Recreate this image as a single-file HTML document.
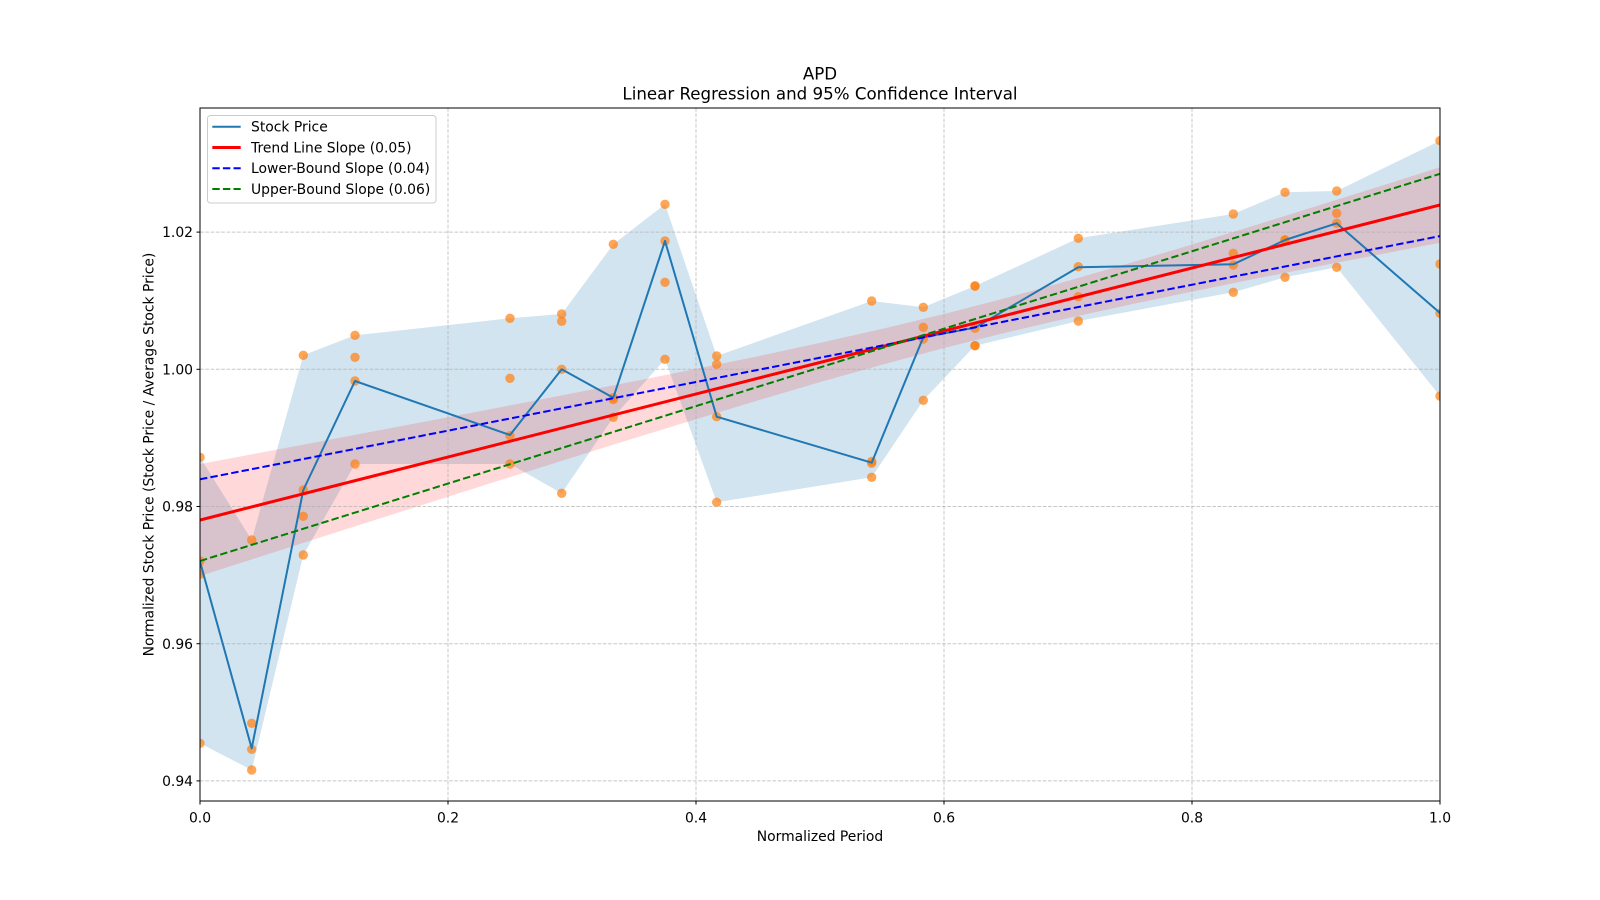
<!DOCTYPE html>
<html>
<head>
<meta charset="utf-8">
<style>
  html, body { margin:0; padding:0; background:#ffffff; }
  svg { display:block; }
  text { font-family: "DejaVu Sans", "Liberation Sans", sans-serif; fill:#000; }
</style>
</head>
<body>
<svg width="1600" height="900" viewBox="0 0 1600 900" xmlns="http://www.w3.org/2000/svg">
  <defs>
    <clipPath id="ax"><rect x="200" y="108" width="1240" height="693"/></clipPath>
  </defs>
  <rect x="0" y="0" width="1600" height="900" fill="#ffffff"/>

  <g clip-path="url(#ax)">
    <!-- blue min/max band -->
    <polygon fill="#1f77b4" fill-opacity="0.2" points="200,457.3 251.7,540 303.3,355.3 355,335.3 510,318.3 561.7,314 613.3,244.3 665,204.3 716.7,356 871.7,301 923.3,307.3 975,286 1078.3,238.3 1233.3,214 1285,192.3 1336.7,191 1440,140.7 1440,396 1336.7,267.3 1285,277.3 1233.3,292.3 1078.3,321 975,345.7 923.3,400.3 871.7,477.3 716.7,502.3 665,359.3 613.3,417.3 561.7,493.3 510,464 355,464 303.3,555 251.7,770 200,743.3"/>

    <!-- red CI band -->
    <polygon fill="#ff0000" fill-opacity="0.15" points="200,464.0 262,452.4 324,440.7 386,429.0 448,417.2 510,405.4 572,393.4 634,381.3 696,368.9 758,356.2 820,342.9 882,328.9 944,314.0 1006,298.0 1068,280.9 1130,263.0 1192,244.5 1254,225.6 1316,206.3 1378,186.9 1440,167.3 1440,242.8 1378,254.7 1316,266.7 1254,279.0 1192,291.6 1130,304.6 1068,318.1 1006,332.6 944,348.0 882,364.7 820,382.1 758,400.4 696,419.2 634,438.3 572,457.6 510,477.1 448,496.8 386,516.5 324,536.3 262,556.1 200,576.0"/>

    <!-- scatter -->
    <g fill="#ff7f0e" fill-opacity="0.7">
      <circle cx="200" cy="457.3" r="4.7"/><circle cx="200" cy="561" r="4.7"/><circle cx="200" cy="574.3" r="4.7"/><circle cx="200" cy="743.3" r="4.7"/>
      <circle cx="251.7" cy="540" r="4.7"/><circle cx="251.7" cy="723.3" r="4.7"/><circle cx="251.7" cy="749.3" r="4.7"/><circle cx="251.7" cy="770" r="4.7"/>
      <circle cx="303.3" cy="355.3" r="4.7"/><circle cx="303.3" cy="490" r="4.7"/><circle cx="303.3" cy="516.3" r="4.7"/><circle cx="303.3" cy="555" r="4.7"/>
      <circle cx="355" cy="335.3" r="4.7"/><circle cx="355" cy="357.3" r="4.7"/><circle cx="355" cy="381" r="4.7"/><circle cx="355" cy="464" r="4.7"/>
      <circle cx="510" cy="318.3" r="4.7"/><circle cx="510" cy="378.3" r="4.7"/><circle cx="510" cy="435.7" r="4.7"/><circle cx="510" cy="464" r="4.7"/>
      <circle cx="561.7" cy="314" r="4.7"/><circle cx="561.7" cy="321.3" r="4.7"/><circle cx="561.7" cy="369.3" r="4.7"/><circle cx="561.7" cy="493.3" r="4.7"/>
      <circle cx="613.3" cy="244.3" r="4.7"/><circle cx="613.3" cy="397.7" r="4.7"/><circle cx="613.3" cy="399.5" r="4.7"/><circle cx="613.3" cy="417.3" r="4.7"/>
      <circle cx="665" cy="204.3" r="4.7"/><circle cx="665" cy="241" r="4.7"/><circle cx="665" cy="282.3" r="4.7"/><circle cx="665" cy="359.3" r="4.7"/>
      <circle cx="716.7" cy="356" r="4.7"/><circle cx="716.7" cy="364.3" r="4.7"/><circle cx="716.7" cy="416.7" r="4.7"/><circle cx="716.7" cy="502.3" r="4.7"/>
      <circle cx="871.7" cy="301" r="4.7"/><circle cx="871.7" cy="461.5" r="4.7"/><circle cx="871.7" cy="463.3" r="4.7"/><circle cx="871.7" cy="477.3" r="4.7"/>
      <circle cx="923.3" cy="307.3" r="4.7"/><circle cx="923.3" cy="327.3" r="4.7"/><circle cx="923.3" cy="339" r="4.7"/><circle cx="923.3" cy="400.3" r="4.7"/>
      <circle cx="975" cy="286" r="4.7"/><circle cx="975" cy="286" r="4.7"/><circle cx="975" cy="328.3" r="4.7"/><circle cx="975" cy="345.7" r="4.7"/><circle cx="975" cy="345.7" r="4.7"/>
      <circle cx="1078.3" cy="238.3" r="4.7"/><circle cx="1078.3" cy="266.7" r="4.7"/><circle cx="1078.3" cy="296.7" r="4.7"/><circle cx="1078.3" cy="321" r="4.7"/>
      <circle cx="1233.3" cy="214" r="4.7"/><circle cx="1233.3" cy="253.3" r="4.7"/><circle cx="1233.3" cy="265" r="4.7"/><circle cx="1233.3" cy="292.3" r="4.7"/>
      <circle cx="1285" cy="192.3" r="4.7"/><circle cx="1285" cy="240" r="4.7"/><circle cx="1285" cy="240" r="4.7"/><circle cx="1285" cy="277.3" r="4.7"/>
      <circle cx="1336.7" cy="191" r="4.7"/><circle cx="1336.7" cy="213.3" r="4.7"/><circle cx="1336.7" cy="223.3" r="4.7"/><circle cx="1336.7" cy="267.3" r="4.7"/>
      <circle cx="1440" cy="140.7" r="4.7"/><circle cx="1440" cy="264" r="4.7"/><circle cx="1440" cy="313.3" r="4.7"/><circle cx="1440" cy="396" r="4.7"/>
    </g>

    <!-- grid -->
    <g stroke="#b0b0b0" stroke-opacity="0.7" stroke-width="1" stroke-dasharray="3.7 1.6" fill="none">
      <line x1="448" y1="108" x2="448" y2="801"/>
      <line x1="696" y1="108" x2="696" y2="801"/>
      <line x1="944" y1="108" x2="944" y2="801"/>
      <line x1="1192" y1="108" x2="1192" y2="801"/>
      <line x1="200" y1="232.1" x2="1440" y2="232.1"/>
      <line x1="200" y1="369.3" x2="1440" y2="369.3"/>
      <line x1="200" y1="506.5" x2="1440" y2="506.5"/>
      <line x1="200" y1="643.7" x2="1440" y2="643.7"/>
      <line x1="200" y1="780.9" x2="1440" y2="780.9"/>
    </g>

    <!-- stock price line -->
    <polyline fill="none" stroke="#1f77b4" stroke-width="2" stroke-linejoin="round" points="200,561.7 251.7,748.3 303.3,490 355,381 510,435 561.7,369.3 613.3,397.7 665,241 716.7,416.7 871.7,462.7 923.3,337.3 975,327.7 1078.3,267.3 1233.3,264.3 1285,240 1336.7,223.3 1440,313"/>

    <!-- trend line -->
    <line x1="200" y1="520" x2="1440" y2="205" stroke="#ff0000" stroke-width="3"/>
    <!-- lower bound -->
    <line x1="200" y1="479.3" x2="1440" y2="236.1" stroke="#0000ff" stroke-width="2" stroke-dasharray="7.4 3.2"/>
    <!-- upper bound -->
    <line x1="200" y1="561" x2="1440" y2="173.8" stroke="#008000" stroke-width="2" stroke-dasharray="7.4 3.2"/>
  </g>

  <!-- spines -->
  <rect x="200" y="108" width="1240" height="693" fill="none" stroke="#000" stroke-width="1"/>

  <!-- ticks -->
  <g stroke="#000" stroke-width="1">
    <line x1="196.5" y1="232.1" x2="200" y2="232.1"/>
    <line x1="196.5" y1="369.3" x2="200" y2="369.3"/>
    <line x1="196.5" y1="506.5" x2="200" y2="506.5"/>
    <line x1="196.5" y1="643.7" x2="200" y2="643.7"/>
    <line x1="196.5" y1="780.9" x2="200" y2="780.9"/>
    <line x1="200" y1="801" x2="200" y2="804.5"/>
    <line x1="448" y1="801" x2="448" y2="804.5"/>
    <line x1="696" y1="801" x2="696" y2="804.5"/>
    <line x1="944" y1="801" x2="944" y2="804.5"/>
    <line x1="1192" y1="801" x2="1192" y2="804.5"/>
    <line x1="1440" y1="801" x2="1440" y2="804.5"/>
  </g>

  <!-- y tick labels -->
  <g font-size="13.9" text-anchor="end">
    <text x="193" y="237.2">1.02</text>
    <text x="193" y="374.4">1.00</text>
    <text x="193" y="511.6">0.98</text>
    <text x="193" y="648.8">0.96</text>
    <text x="193" y="786">0.94</text>
  </g>
  <!-- x tick labels -->
  <g font-size="13.9" text-anchor="middle">
    <text x="200" y="822.3">0.0</text>
    <text x="448" y="822.3">0.2</text>
    <text x="696" y="822.3">0.4</text>
    <text x="944" y="822.3">0.6</text>
    <text x="1192" y="822.3">0.8</text>
    <text x="1440" y="822.3">1.0</text>
  </g>

  <!-- axis labels -->
  <text x="820" y="841" font-size="13.9" text-anchor="middle">Normalized Period</text>
  <text x="0" y="0" font-size="13.9" text-anchor="middle" transform="translate(153.5,454.5) rotate(-90)">Normalized Stock Price (Stock Price / Average Stock Price)</text>

  <!-- title -->
  <text x="820" y="79.7" font-size="16.67" text-anchor="middle">APD</text>
  <text x="820" y="99.7" font-size="16.67" text-anchor="middle">Linear Regression and 95% Confidence Interval</text>

  <!-- legend -->
  <rect x="207.5" y="115.5" width="228.5" height="87.5" rx="3" ry="3" fill="#ffffff" fill-opacity="0.8" stroke="#cccccc" stroke-width="1"/>
  <line x1="212.3" y1="126.7" x2="240.7" y2="126.7" stroke="#1f77b4" stroke-width="2"/>
  <line x1="212.3" y1="147.5" x2="240.7" y2="147.5" stroke="#ff0000" stroke-width="3"/>
  <line x1="212.3" y1="168.3" x2="240.7" y2="168.3" stroke="#0000ff" stroke-width="2" stroke-dasharray="7.4 3.2"/>
  <line x1="212.3" y1="189" x2="240.7" y2="189" stroke="#008000" stroke-width="2" stroke-dasharray="7.4 3.2"/>
  <g font-size="13.9">
    <text x="251" y="131.7">Stock Price</text>
    <text x="251" y="152.4">Trend Line Slope (0.05)</text>
    <text x="251" y="173.1">Lower-Bound Slope (0.04)</text>
    <text x="251" y="193.8">Upper-Bound Slope (0.06)</text>
  </g>
</svg>
</body>
</html>
